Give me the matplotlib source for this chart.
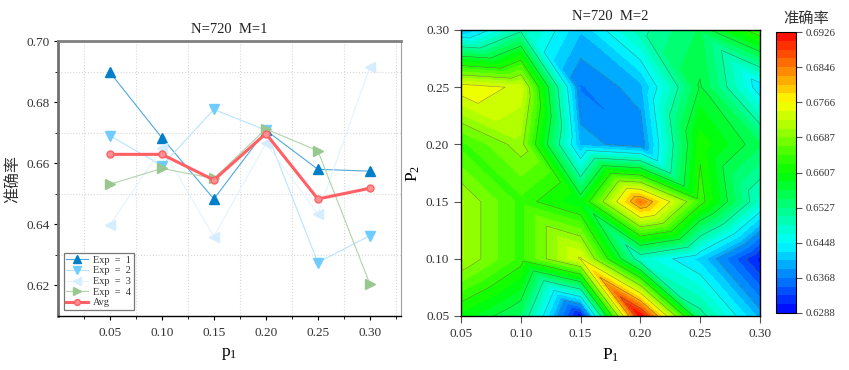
import matplotlib
matplotlib.use("Agg")
import matplotlib.pyplot as plt
import matplotlib.tri as mtri
import numpy as np
from matplotlib.colors import LinearSegmentedColormap

plt.rcParams["font.family"] = ["Liberation Serif", "Noto Sans CJK SC", "DejaVu Sans"]
plt.rcParams["mathtext.fontset"] = "custom"
plt.rcParams["mathtext.rm"] = "Liberation Serif"
plt.rcParams["mathtext.it"] = "Liberation Serif"

p1 = [0.05, 0.10, 0.15, 0.20, 0.25, 0.30]
p2 = [0.05, 0.10, 0.15, 0.20, 0.25, 0.30]
exp1 = [0.6897, 0.6683, 0.6483, 0.6708, 0.6580, 0.6574]
exp2 = [0.6690, 0.6592, 0.6776, 0.6708, 0.6275, 0.6363]
exp3 = [0.6398, 0.6650, 0.6360, 0.6665, 0.6434, 0.6915]
exp4 = [0.6531, 0.6583, 0.6550, 0.6712, 0.6641, 0.6205]
avg = [0.6629, 0.6629, 0.6545, 0.6697, 0.6483, 0.6518]

# rows run from p2 = 0.05 up to p2 = 0.30
acc_grid = [
    [0.6600, 0.6540, 0.6292, 0.6926, 0.6520, 0.6400],
    [0.6710, 0.6640, 0.6750, 0.6480, 0.6420, 0.6300],
    [0.6710, 0.6640, 0.6590, 0.6850, 0.6640, 0.6480],
    [0.6640, 0.6700, 0.6400, 0.6370, 0.6620, 0.6550],
    [0.6765, 0.6740, 0.6365, 0.6400, 0.6570, 0.6430],
    [0.6400, 0.6500, 0.6410, 0.6500, 0.6550, 0.6650],
]
cbar_ticks = [0.6288, 0.6368, 0.6448, 0.6527, 0.6607, 0.6687, 0.6766, 0.6846, 0.6926]

W, H = 849, 370
fig = plt.figure(figsize=(W / 100, H / 100), dpi=100)


def px_axes(left, top, right, bottom):
    return fig.add_axes([left / W, 1 - bottom / H, (right - left) / W, (bottom - top) / H])


text_col = "#333333"
ax = px_axes(58, 41, 401, 316)
styles = [
    (exp1, "#0080c8", "#50a8dc", "^", "Exp  =  1"),
    (exp2, "#70ccff", "#b8e4ff", "v", "Exp  =  2"),
    (exp3, "#d6ecff", "#e4f3ff", "<", "Exp  =  3"),
    (exp4, "#98c890", "#b0d4a8", ">", "Exp  =  4"),
]
for vals, col, line_col, mark, name in styles:
    ax.plot(p1, vals, color=line_col, marker=mark, mfc=col, mec=col, ms=6.5, lw=0.8, label=name)
ax.plot(p1, avg, color="#ff6066", marker="o", ms=5, mfc="#ff9090", lw=2.2, label="Avg")

ax.set_xlim(0, 0.33)
ax.set_ylim(0.61, 0.70)
ax.set_xticks(p1)
ax.set_xticklabels([f"{v:.2f}" for v in p1])
ax.set_xticks([0.025, 0.075, 0.125, 0.175, 0.225, 0.275, 0.325], minor=True)
ax.set_yticks([0.62, 0.64, 0.66, 0.68, 0.70])
ax.set_yticks([0.63, 0.65, 0.67, 0.69], minor=True)
ax.grid(which="minor", color="#d8d8d8", ls=":", lw=0.8)
ax.tick_params(which="major", length=3, labelsize=9.5, labelcolor=text_col, pad=5)
ax.tick_params(axis="y", which="major", pad=3)
ax.tick_params(which="minor", length=2)
for side, col, lw in [("left", "#707070", 2), ("top", "#808080", 2), ("right", "#a0a0a0", 0.8), ("bottom", "#000000", 1)]:
    ax.spines[side].set_color(col)
    ax.spines[side].set_linewidth(lw)
ax.set_title("N=720  M=1", fontsize=10.5, pad=6, color="#222222")
ax.set_xlabel("p$_1$", fontsize=12.5, labelpad=5)
ax.set_ylabel("准确率", fontsize=11.5, family=["Noto Sans CJK SC"], color="#333333")
ax.yaxis.set_label_coords(-0.105, 0.5)
leg = ax.legend(loc="lower left", bbox_to_anchor=(0.017, 0.022), borderaxespad=0, fontsize=7.4,
                fancybox=False, edgecolor="#777777", framealpha=1, labelspacing=0.14,
                handlelength=2.1, borderpad=0.25, handletextpad=0.5, markerscale=0.85)
leg.get_frame().set_linewidth(0.9)
for t in leg.get_texts():
    t.set_color(text_col)

# heat map: triangles with the "\" diagonal in every cell
ax2 = px_axes(461, 30, 760, 316)
z = np.array(acc_grid).ravel()
xx, yy = np.meshgrid(p1, p2)
tris = []
for j in range(5):
    for i in range(5):
        a, b, c, d = j * 6 + i, j * 6 + i + 1, (j + 1) * 6 + i, (j + 1) * 6 + i + 1
        tris += [[a, b, c], [b, d, c]]
tri = mtri.Triangulation(xx.ravel(), yy.ravel(), tris)

cmap = LinearSegmentedColormap.from_list(
    "bands", ["#0000ff", "#00ffff", "#00ff00", "#ffff00", "#ff0000"])
levels = np.linspace(0.6288, 0.6926, 33)
cf = ax2.tricontourf(tri, z, levels=levels, cmap=cmap)
ax2.tricontour(tri, z, levels=levels[2::3], colors="#505050", linewidths=0.4, alpha=0.65)

ax2.set_xlim(0.05, 0.30)
ax2.set_ylim(0.05, 0.30)
ax2.set_xticks(p1)
ax2.set_yticks(p2)
ax2.set_xticklabels([f"{v:.2f}" for v in p1])
ax2.set_yticklabels([f"{v:.2f}" for v in p2])
ax2.tick_params(length=5, labelsize=9.5, labelcolor=text_col, color="#555555")
for s in ax2.spines.values():
    s.set_linewidth(1)
ax2.set_title("N=720  M=2", fontsize=10.5, pad=7, color="#222222")
ax2.set_xlabel("P$_1$", fontsize=12.5, labelpad=5)
ax2.set_ylabel("P$_2$", fontsize=12.5, labelpad=3)

cax = px_axes(776, 32, 796, 313)
cb = fig.colorbar(cf, cax=cax, ticks=cbar_ticks, drawedges=False)
cb.ax.set_yticklabels([f"{v:.4f}" for v in cbar_ticks])
cb.ax.tick_params(length=4, labelsize=7.8, labelcolor=text_col, width=0.8, color="#555555", pad=3)
cb.outline.set_linewidth(0.8)
fig.text(806 / W, 1 - 18 / H, "准确率", ha="center", va="center", fontsize=11,
         family=["Noto Sans CJK SC"], color="#333333")

fig.savefig("out.png", dpi=100)
